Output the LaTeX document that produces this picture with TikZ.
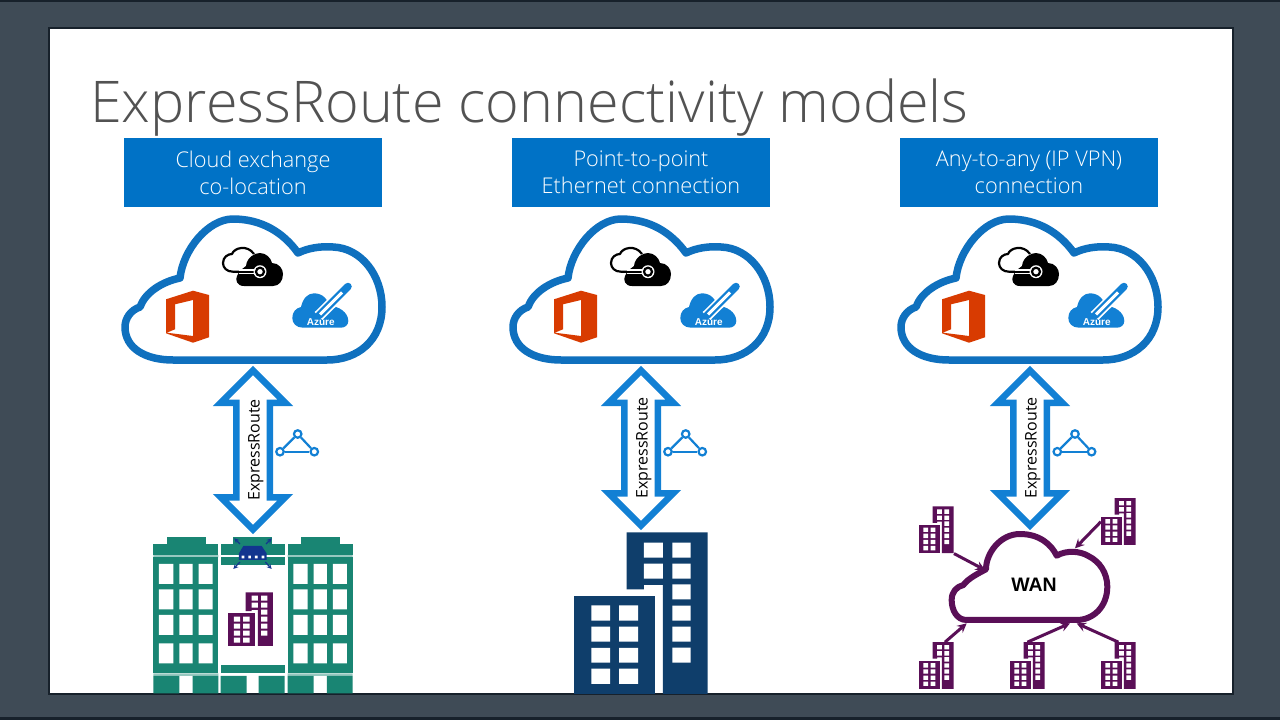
\documentclass[tikz,border=0pt]{standalone}
\usepackage{fontspec}
\setmainfont{Open Sans}[UprightFont=* Light]
\newfontfamily\plainfont{Open Sans}
\newfontfamily\boldfont{Liberation Sans}[UprightFont=* Bold]
\usetikzlibrary{shapes.arrows}
\usetikzlibrary{arrows}
\definecolor{slidebg}{HTML}{3F4B56}
\definecolor{panelline}{HTML}{17212B}
\definecolor{bandblue}{HTML}{0072C6}
\definecolor{cloudblue}{HTML}{0F70BE}
\definecolor{linkblue}{HTML}{1280D4}
\definecolor{officered}{HTML}{D83B01}
\definecolor{teal}{HTML}{198573}
\definecolor{navy}{HTML}{0F3E6B}
\definecolor{routerblue}{HTML}{12358F}
\definecolor{plum}{HTML}{5A0F57}

\begin{document}
\begin{tikzpicture}[x=1pt,y=-1pt]
\tikzstyle{band} = [fill=bandblue, text=white, minimum width=258, minimum height=69, inner sep=0, align=center, font=\fontsize{21.7}{27}\selectfont]
\tikzstyle{link} = [double arrow, draw=linkblue, fill=white, line width=6.5, minimum width=58, double arrow head extend=15.5, inner xsep=0, inner ysep=7, text height=13, text depth=0, rotate=90, font=\plainfont\fontsize{16}{18}\selectfont]
\tikzstyle{vertex} = [circle, draw=linkblue, fill=white, line width=2.2, inner sep=0, minimum size=7.5]
\tikzstyle{edge} = [draw=linkblue, line width=2.2]
\tikzstyle{feed} = [draw=plum, line width=3, -stealth]
\tikzstyle{site} = [inner sep=0, minimum width=34.7, minimum height=46.7]

\tikzset{pics/towerpair/.style={code={
  \fill[#1] (158,0) -- (401,0) -- (401,485) -- (267,485) -- (267,158) -- (210,158) -- (210,171) -- (158,171) -- cycle;
  \fill[#1] (0,191) rectangle (243,485);
  \fill[white] (210,31) rectangle (267,76) (295,31) rectangle (350,76)
    (210,94) rectangle (267,139) (295,94) rectangle (350,139)
    (295,156) rectangle (350,201) (295,220) rectangle (350,265)
    (295,283) rectangle (350,328) (295,346) rectangle (350,391);
  \fill[white] (52,219) rectangle (108,265) (135,219) rectangle (192,265)
    (52,283) rectangle (108,328) (135,283) rectangle (192,328)
    (52,347) rectangle (108,391) (135,347) rectangle (192,391)
    (52,409) rectangle (108,455) (135,409) rectangle (192,455);
}}}
\tikzset{pics/wing/.style={code={
  \fill[teal!45] (40,585) rectangle (235,592) (40,940) rectangle (235,948);
  \fill[teal] (80,530) rectangle (197,553);
  \fill[teal] (40,553) rectangle (235,585);
  \fill[teal] (40,592) rectangle (235,940);
  \fill[teal] (40,948) rectangle (118,1000) (158,948) rectangle (235,1000);
  \fill[white] (57,612) rectangle (100,672) (118,612) rectangle (158,672) (176,612) rectangle (218,672)
    (57,688) rectangle (100,748) (118,688) rectangle (158,748) (176,688) rectangle (218,748)
    (57,765) rectangle (100,825) (118,765) rectangle (158,825) (176,765) rectangle (218,825)
    (57,850) rectangle (100,910) (118,850) rectangle (158,910) (176,850) rectangle (218,910);
}}}
\tikzset{pics/peering/.style={code={
  \node[vertex] (-top) at (0,0) {};
  \node[vertex] (-left) at (-17.7,17.7) {};
  \node[vertex] (-right) at (16.6,17.7) {};
  \draw[edge] (-top) -- (-left);
  \draw[edge] (-top) -- (-right);
  \draw[edge] (-left) -- (-right);
}}}
\tikzset{pics/servicecloud/.style={code={
  \draw[cloudblue, line width=7.5, fill=white, line join=round]
    (-80,70) .. controls (-108,70) and (-128,58) .. (-128,37)
    .. controls (-128,28) and (-122,20) .. (-113,17)
    .. controls (-108,3) and (-92,-8) .. (-73,-12)
    .. controls (-70,-40) and (-45,-71) .. (-20,-71)
    .. controls (8,-71) and (30,-58) .. (45,-37)
    .. controls (55,-42) and (68,-44) .. (80,-43)
    .. controls (108,-42) and (129,-15) .. (129,17)
    .. controls (129,50) and (105,70) .. (74,70) -- cycle;
  % office door
  \fill[officered, even odd rule] (-60,0.7) -- (-44,5) -- (-44,47.3) -- (-60,52.7) -- (-87,43.3) -- (-87,9.3) -- cycle
    (-60,10) -- (-78,14.3) -- (-78,39.3) -- (-86.3,42.7) -- (-60,46) -- cycle;
  % gateway cloud
  \draw[black, line width=2.2, line join=round] (0,-18.3) -- (-20,-18.3)
    .. controls (-26,-18.3) and (-30,-22) .. (-30,-27)
    .. controls (-30,-33) and (-25,-36) .. (-21,-36)
    .. controls (-19,-42) and (-6,-46) .. (1,-36);
  \fill[black] (-9,-4) .. controls (-16,-4) and (-18,-10) .. (-16,-14)
    .. controls (-14,-20) and (-9,-22) .. (-7,-24)
    .. controls (-6,-33) and (2,-37) .. (7,-37)
    .. controls (13,-37) and (18,-32) .. (19,-27)
    .. controls (26,-27) and (30,-21) .. (30,-16)
    .. controls (30,-9) and (26,-4) .. (20,-4) -- cycle;
  \draw[white, line width=5.5] (-14,-18.3) -- (2,-18.3);
  \draw[black, line width=2] (-14,-18.3) -- (2,-18.3);
  \fill[white] (7,-18.3) circle (6.5);
  \draw[black, fill=white, line width=2.2] (7,-18.3) circle (4);
  % azure cloud
  \fill[linkblue] (50,37.7) .. controls (43,37.7) and (39.3,33) .. (39.3,28)
    .. controls (39.3,22) and (43,18) .. (48,17)
    .. controls (50,8) and (55,3.3) .. (61,3.3)
    .. controls (70,3.3) and (75,10) .. (77,16)
    .. controls (85,16) and (95.3,22) .. (95.3,31)
    .. controls (95.3,35) and (92,37.7) .. (88,37.7) -- cycle;
  \draw[white, line width=11] (65.5,26) -- (94,-2);
  \draw[linkblue, line width=7.5, line cap=round] (66,25.5) -- (95,-3.5);
  \draw[white, line width=3] (67,24.5) -- (89,2.5);
  \node[text=white, inner sep=0, font=\boldfont\fontsize{10}{12}\selectfont] (-azure) at (67.7,32.3) {Azure};
}}}

\useasboundingbox (0,0) rectangle (1280,720);
\fill[slidebg] (0,0) rectangle (1280,720);
\fill[panelline] (0,0) rectangle (1280,2);
\fill[panelline] (0,717) rectangle (1280,720);
\draw[panelline, fill=white, line width=1.5] (49,28) rectangle (1233,694);

\node[anchor=base west, inner sep=0, text=black!68, font=\fontsize{57.5}{70}\selectfont] (title) at (90,122) {ExpressRoute connectivity models};

\node[band] (bandA) at (253,172.5) {Cloud exchange\\co-location};
\node[band] (bandB) at (641,172.5) {Point-to-point\\Ethernet connection};
\node[band] (bandC) at (1029,172.5) {Any-to-any (IP VPN)\\connection};

\pic (cloudA) at (253,290) {servicecloud};
\pic (cloudB) at (641,290) {servicecloud};
\pic (cloudC) at (1029,290) {servicecloud};

\node[link, minimum height=159] (routeA) at (253,450) {ExpressRoute};
\node[link, minimum height=155] (routeB) at (641,448) {ExpressRoute};
\node[link, minimum height=155] (routeC) at (1030,448) {ExpressRoute};

\pic (peerA) at (297.7,434) {peering};
\pic (peerB) at (685.7,434) {peering};
\pic (peerC) at (1075,434) {peering};

% co-location building
\pic[scale=0.3333] at (140,360) {wing};
\pic[scale=0.3333] at (274.3,360) {wing};
\begin{scope}[shift={(140,360)},scale=0.3333]
\fill[teal] (280,530) rectangle (395,553);
\fill[teal] (242,553) rectangle (434,585);
\fill[teal] (242,592) rectangle (434,614);
\fill[teal] (242,915) rectangle (434,940);
\fill[teal] (242,948) rectangle (320,1000) (356,948) rectangle (434,1000);
% router
\fill[routerblue] (310,558) -- (365,558) -- (380,580) -- (380,600) -- (297,600) -- (297,580) -- cycle;
\fill[white] (305,587) rectangle (313,595) (325,587) rectangle (333,595) (345,587) rectangle (353,595) (365,587) rectangle (373,595);
\draw[routerblue, line width=1.2, -stealth] (300,552) -- (283,535);
\draw[routerblue, line width=1.2, -stealth] (378,552) -- (395,535);
\draw[routerblue, line width=1.2, -stealth] (300,606) -- (280,627);
\draw[routerblue, line width=1.2, -stealth] (376,606) -- (395,627);
\end{scope}
\pic[xscale=0.1122, yscale=0.1107] at (228,592.3) {towerpair=plum};

% dark office block
\pic[scale=0.3333] at (574,532.3) {towerpair=navy};

% wan
\begin{scope}[shift={(900,490)},scale=0.3333]
\draw[plum, line width=6, fill=white, line join=round]
  (200,390) .. controls (170,390) and (155,360) .. (155,330)
  .. controls (155,305) and (170,290) .. (190,285)
  .. controls (205,265) and (235,250) .. (258,238)
  .. controls (258,190) and (300,132) .. (360,132)
  .. controls (420,132) and (455,165) .. (470,197)
  .. controls (500,180) and (540,183) .. (565,198)
  .. controls (600,215) and (622,250) .. (622,290)
  .. controls (622,350) and (580,390) .. (530,390) -- cycle;
\coordinate (wanA) at (255,240);
\coordinate (wanB) at (525,175);
\coordinate (wanC) at (200,400);
\coordinate (wanD) at (510,400);
\coordinate (wanE) at (530,400);
\end{scope}
\node[inner sep=0, font=\boldfont\fontsize{19.5}{22}\selectfont] (wan) at (1034,585) {WAN};

\node[site] (siteA) at (936.4,530) {};
\node[site] (siteB) at (1118.4,521.7) {};
\node[site] (siteC) at (936.4,665.7) {};
\node[site] (siteD) at (1027.4,665.7) {};
\node[site] (siteE) at (1118.4,665.7) {};
\pic[xscale=0.0865, yscale=0.0963] at (siteA.north west) {towerpair=plum};
\pic[xscale=0.0865, yscale=0.0963] at (siteB.north west) {towerpair=plum};
\pic[xscale=0.0865, yscale=0.0963] at (siteC.north west) {towerpair=plum};
\pic[xscale=0.0865, yscale=0.0963] at (siteD.north west) {towerpair=plum};
\pic[xscale=0.0865, yscale=0.0963] at (siteE.north west) {towerpair=plum};

\draw[feed] (siteA.south east) -- (wanA);
\draw[feed] (siteB.west) -- (wanB);
\draw[feed] (siteC.70) -- (wanC);
\draw[feed] (siteD.north) -- (wanD);
\draw[feed] (siteE.north) -- (wanE);
\end{tikzpicture}
\end{document}
